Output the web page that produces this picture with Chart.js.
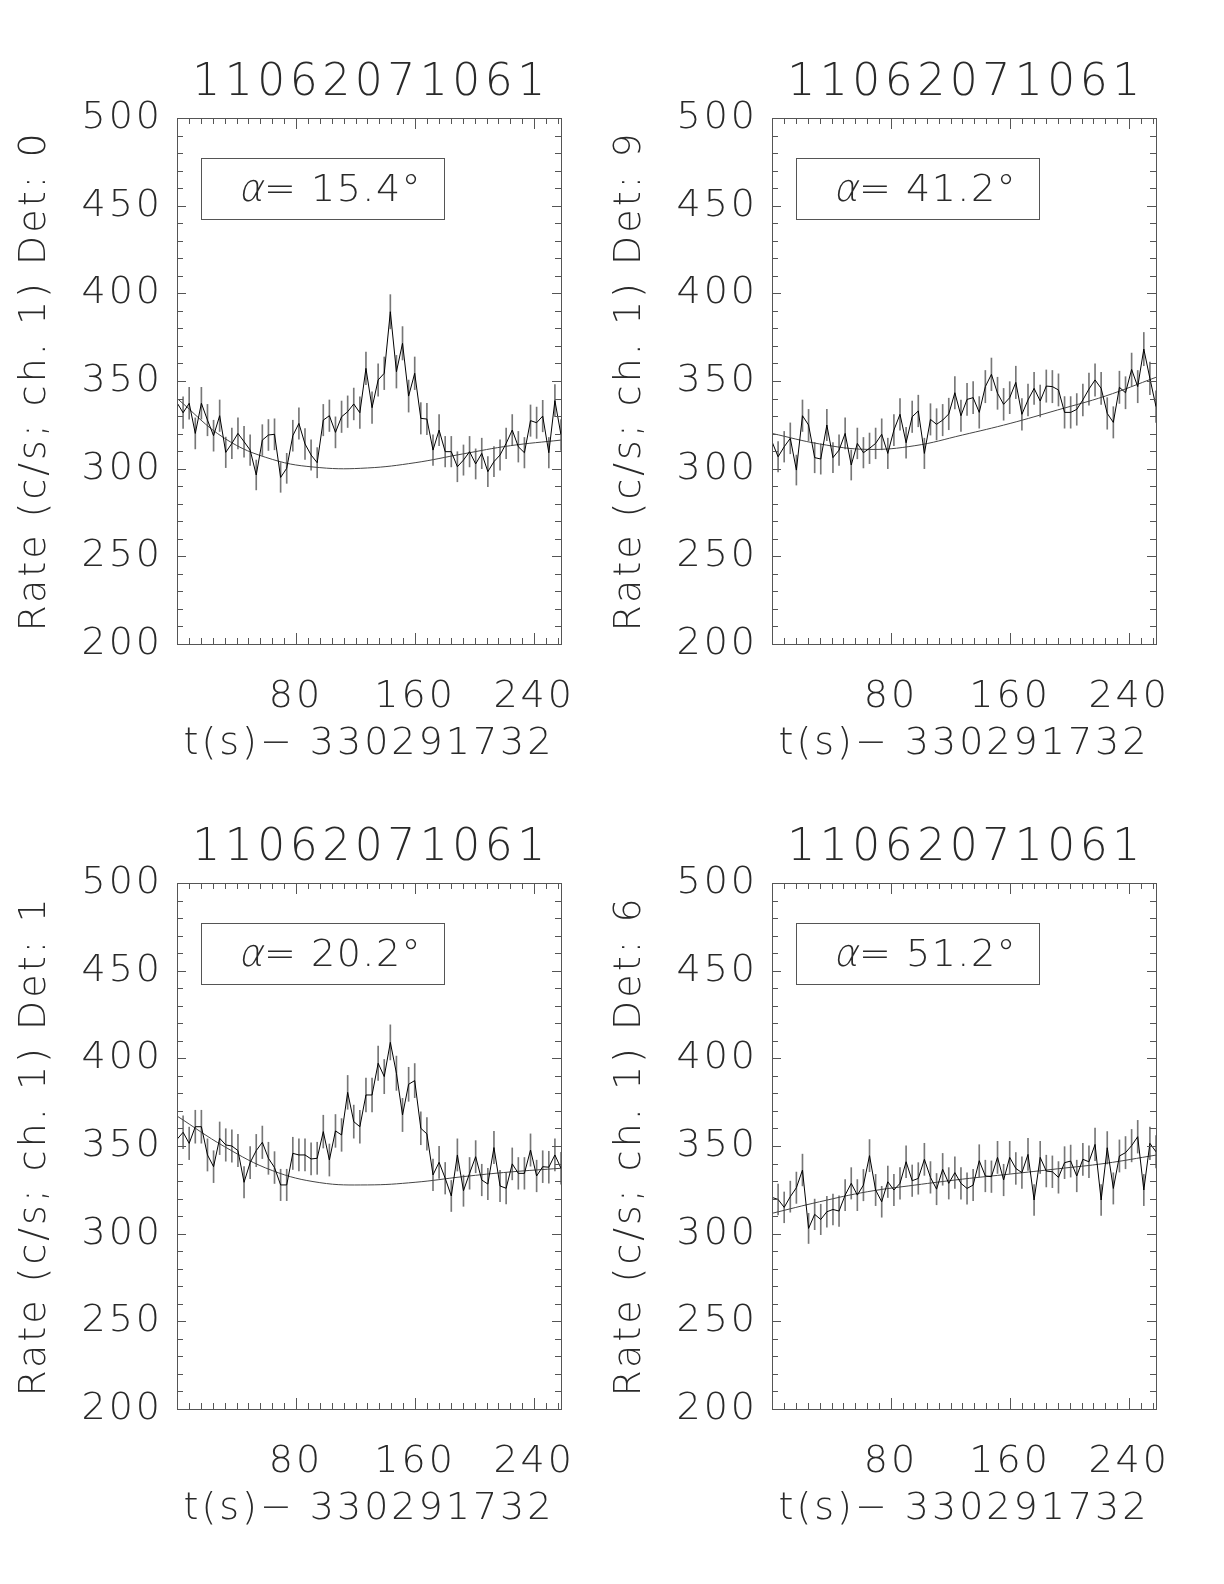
<!DOCTYPE html>
<html>
<head>
<meta charset="utf-8">
<script src="https://cdn.jsdelivr.net/npm/chart.js@4.4.1/dist/chart.umd.min.js"></script>
<style>
  html, body { margin: 0; padding: 0; background: #fff; overflow: hidden; }
  #page { position: relative; width: 1224px; height: 1584px; }
  #page canvas { position: absolute; }
</style>
</head>
<body>
<div id="page">
  <canvas id="panel0" width="600" height="765" style="left:0;top:0"></canvas>
  <canvas id="panel1" width="600" height="765" style="left:595px;top:0"></canvas>
  <canvas id="panel2" width="600" height="765" style="left:0;top:765px"></canvas>
  <canvas id="panel3" width="600" height="765" style="left:595px;top:765px"></canvas>
</div>
<script>
// --- data ---
const runId = '11062071061';
const timeOffset = '330291732';
const binWidth = 4.096;            // s per bin
const detectors = [0, 9, 1, 6];
const angles = ['15.4', '41.2', '20.2', '51.2'];
const yTicks = [200, 250, 300, 350, 400, 450, 500];
const xTicks = [80, 160, 240];

// count rate per bin (c/s), 64 bins
const rateDet0 = [337.6, 331.9, 337.3, 320.1, 337.3, 327.7, 318.8, 330.2, 309.3, 314.4,
  320.1, 315.4, 310.6, 296.4, 316.3, 319.2, 319.6, 295.0, 300.2, 318.8,
  325.8, 314.1, 307.8, 303.4, 327.7, 330.2, 320.7, 329.6, 332.5, 336.9,
  331.9, 357.2, 334.8, 350.6, 354.4, 389.5, 355.3, 371.5, 341.4, 354.4,
  328.7, 328.3, 310.6, 322.0, 309.7, 309.7, 301.1, 304.9, 309.7, 302.7,
  308.7, 298.3, 304.0, 307.8, 314.4, 322.0, 312.5, 309.1, 327.4, 326.2,
  330.0, 309.1, 338.8, 319.2];
const rateDet9 = [315.4, 306.8, 312.5, 317.3, 299.2, 330.2, 324.9, 306.3, 305.5, 324.9,
  306.3, 310.6, 320.1, 302.1, 314.4, 309.1, 311.6, 314.4, 319.6, 308.7,
  322.0, 331.0, 314.8, 329.6, 332.9, 308.7, 328.1, 325.3, 327.7, 331.2,
  343.3, 330.2, 339.5, 340.5, 332.1, 346.8, 353.8, 343.0, 336.7, 340.5,
  349.2, 331.0, 339.2, 345.8, 338.6, 347.1, 346.8, 344.9, 332.1, 332.1,
  333.8, 339.2, 345.4, 350.6, 345.8, 331.5, 326.4, 346.4, 343.3, 356.6,
  346.8, 368.2, 351.5, 335.4];
const rateDet1 = [353.8, 357.8, 351.5, 361.0, 361.0, 344.9, 338.2, 354.4, 350.6, 350.0,
  347.4, 329.3, 340.5, 347.4, 352.1, 343.0, 337.7, 327.8, 327.8, 345.8,
  344.9, 344.9, 342.6, 343.0, 358.2, 342.0, 358.6, 356.3, 380.6, 363.9,
  361.0, 379.1, 379.1, 397.2, 389.6, 409.1, 391.5, 367.7, 385.2, 387.3,
  360.1, 356.9, 333.5, 340.7, 331.6, 321.5, 344.9, 324.5, 334.4, 343.9,
  330.6, 328.3, 349.1, 327.2, 325.9, 339.8, 334.4, 334.4, 347.7, 332.9,
  338.2, 337.9, 344.9, 337.3];
const rateDet6 = [320.7, 319.5, 315.0, 321.1, 326.2, 336.3, 303.0, 311.0, 308.1, 312.5,
  313.8, 312.9, 322.0, 328.7, 322.0, 327.7, 344.5, 324.9, 318.2, 329.6,
  324.9, 328.7, 341.0, 330.2, 331.5, 342.4, 332.1, 325.4, 336.7, 328.7,
  334.8, 328.7, 325.8, 327.7, 341.6, 332.9, 332.5, 343.5, 330.6, 343.5,
  337.2, 334.8, 345.2, 319.2, 343.5, 335.7, 335.3, 332.1, 340.5, 341.4,
  332.9, 342.4, 341.0, 350.9, 319.2, 349.0, 325.8, 344.3, 346.2, 350.2,
  355.3, 324.9, 351.5, 346.7];

// background fit, sampled at a few times
const fitTimes = [0, 32, 64, 96, 128, 160, 192, 224, 258];
const fitDet0 = [340.1, 317.3, 305.3, 300.6, 300.4, 303.4, 308.4, 313.1, 316.3];
const fitDet9 = [320.1, 314.1, 311.0, 313.1, 319.2, 325.8, 333.5, 341.4, 352.1];
const fitDet1 = [367.1, 349.6, 336.0, 329.1, 327.8, 329.3, 332.5, 335.2, 337.3];
const fitDet6 = [311.6, 318.2, 323.9, 327.7, 331.1, 334.0, 337.0, 340.1, 344.8];

const FONT = "'DejaVu Sans', sans-serif";
const INK = '#2a2a2a';

// IDL-style frame: box, inward ticks on all sides, title and angle label
const idlFrame = {
  id: 'idlFrame',
  beforeDraw(chart) {
    // wide vector-font look for the axis texts
    chart.ctx.letterSpacing = '3px';
  },
  afterDraw(chart, args, opts) {
    const { ctx, chartArea: a, scales: { x, y } } = chart;
    ctx.save();
    ctx.strokeStyle = '#555';
    ctx.lineWidth = 1;
    ctx.strokeRect(a.left + 0.5, a.top + 0.5, a.right - a.left, a.bottom - a.top);
    ctx.beginPath();
    for (let t = 0; t <= x.max; t += 8) {
      const px = Math.round(x.getPixelForValue(t)) + 0.5;
      const len = t % 80 === 0 ? 11 : 6;
      ctx.moveTo(px, a.bottom); ctx.lineTo(px, a.bottom - len);
      ctx.moveTo(px, a.top); ctx.lineTo(px, a.top + len);
    }
    for (let v = y.min; v <= y.max; v += 10) {
      const py = Math.round(y.getPixelForValue(v)) + 0.5;
      const len = v % 50 === 0 ? 9 : 6;
      ctx.moveTo(a.left, py); ctx.lineTo(a.left + len, py);
      ctx.moveTo(a.right, py); ctx.lineTo(a.right - len, py);
    }
    ctx.stroke();

    // title
    ctx.fillStyle = INK;
    ctx.textAlign = 'center';
    ctx.textBaseline = 'middle';
    ctx.font = `200 44px ${FONT}`;
    ctx.letterSpacing = '4.5px';
    ctx.fillText(opts.title, (a.left + a.right) / 2 + 2, 84);

    // angle box
    const bx = a.left + 24, by = a.top + 40;
    ctx.strokeRect(bx + 0.5, by + 0.5, 243, 61);
    ctx.textAlign = 'left';
    ctx.textBaseline = 'alphabetic';
    ctx.font = `200 38px ${FONT}`;
    ctx.letterSpacing = '0px';
    const ax = bx + 37, base = by + 43;
    ctx.save();
    ctx.translate(ax, base);
    ctx.transform(1, 0, -0.22, 1, 0, 0);   // slanted alpha
    ctx.fillText('\u03b1', 0, 0);
    ctx.restore();
    const w = ctx.measureText('\u03b1').width;
    ctx.letterSpacing = '1.5px';
    ctx.fillText('= ' + opts.angle + '\u00b0', ax + w + 1, base);
    ctx.restore();
  }
};

function makePanel(canvasId, det, angle, rates, fit) {
  const times = rates.map((_, i) => i * binWidth);
  const errBars = rates.map((v, i) => {
    const e = Math.sqrt(v / binWidth);
    return { x: times[i], y: [v - e, v + e] };
  });
  const tickFont = { family: FONT, size: 38, weight: 200, lineHeight: 1 };

  new Chart(document.getElementById(canvasId), {
    type: 'line',
    data: {
      datasets: [
        { type: 'bar', data: errBars, backgroundColor: '#777', barThickness: 1, order: 3 },
        { data: fitTimes.map((t, i) => ({ x: t, y: fit[i] })), borderColor: '#444',
          borderWidth: 1, pointRadius: 0, tension: 0.4, order: 2 },
        { data: times.map((t, i) => ({ x: t, y: rates[i] })), borderColor: '#000',
          borderWidth: 1, pointRadius: 0, tension: 0, order: 1 }
      ]
    },
    options: {
      responsive: false,
      animation: false,
      devicePixelRatio: 1,
      layout: { padding: { top: 118, right: 39, bottom: 0, left: 0 } },
      plugins: {
        legend: { display: false },
        tooltip: { enabled: false },
        idlFrame: { title: runId, angle: angle }
      },
      scales: {
        x: {
          type: 'linear', min: 0, max: 63 * binWidth, offset: false,
          grid: { display: false, drawTicks: false }, border: { display: false },
          afterBuildTicks: s => { s.ticks = xTicks.map(v => ({ value: v })); },
          ticks: { color: INK, font: tickFont, padding: 34, maxRotation: 0, autoSkip: false },
          title: { display: true, text: 't(s)\u2212 ' + timeOffset, color: INK, font: tickFont,
                   padding: { top: 2, bottom: 2 } },
          afterFit: s => { s.height = 121; s.paddingLeft = 0; s.paddingRight = 0; }
        },
        y: {
          type: 'linear', min: 200, max: 500,
          grid: { display: false, drawTicks: false }, border: { display: false },
          afterBuildTicks: s => { s.ticks = yTicks.map(v => ({ value: v })); },
          ticks: { color: INK, font: tickFont, padding: 14 },
          title: { display: true, text: 'Rate (c/s; ch. 1) Det: ' + det, color: INK, font: tickFont,
                   padding: { top: 16, bottom: 16 } },
          afterFit: s => { s.width = 177; s.paddingTop = 0; s.paddingBottom = 0; }
        }
      }
    },
    plugins: [idlFrame]
  });
}

makePanel('panel0', detectors[0], angles[0], rateDet0, fitDet0);
makePanel('panel1', detectors[1], angles[1], rateDet9, fitDet9);
makePanel('panel2', detectors[2], angles[2], rateDet1, fitDet1);
makePanel('panel3', detectors[3], angles[3], rateDet6, fitDet6);
</script>
</body>
</html>
